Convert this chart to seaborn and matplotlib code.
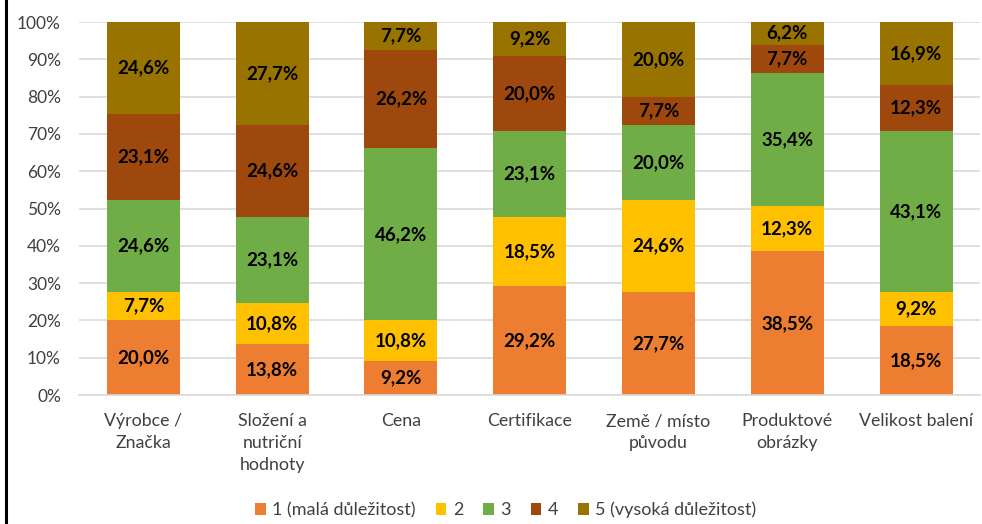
import numpy as np
import pandas as pd
import matplotlib
matplotlib.use("Agg")
import matplotlib.pyplot as plt
from matplotlib.patches import Patch
from matplotlib.lines import Line2D
import seaborn as sns

categories = ["Výrobce /\nZnačka", "Složení a\nnutriční\nhodnoty", "Cena", "Certifikace",
              "Země / místo\npůvodu", "Produktové\nobrázky", "Velikost balení"]
levels = ["1 (malá důležitost)", "2", "3", "4", "5 (vysoká důležitost)"]
level_1 = [20.0, 13.8, 9.2, 29.2, 27.7, 38.5, 18.5]
level_2 = [7.7, 10.8, 10.8, 18.5, 24.6, 12.3, 9.2]
level_3 = [24.6, 23.1, 46.2, 23.1, 20.0, 35.4, 43.1]
level_4 = [23.1, 24.6, 26.2, 20.0, 7.7, 7.7, 12.3]
level_5 = [24.6, 27.7, 7.7, 9.2, 20.0, 6.2, 16.9]
colors = ["#ED7D31", "#FFC000", "#70AD47", "#9E480E", "#997300"]

sns.set_theme(style="white")
plt.rcParams["font.family"] = ["Lato", "DejaVu Sans"]

series = [level_1, level_2, level_3, level_4, level_5]
values = np.array(series)
tops = values.cumsum(axis=0)

fig = plt.figure(figsize=(9.82, 5.24), dpi=100)
ax = fig.add_axes([0.0804, 0.246, 0.918, 0.712])

# stacked bars: draw cumulative totals from the top segment down
for i in reversed(range(len(levels))):
    df = pd.DataFrame({"kategorie": categories, "podíl": tops[i]})
    sns.barplot(data=df, x="kategorie", y="podíl", color=colors[i], width=0.567,
                saturation=1, ax=ax, zorder=2, linewidth=0)

# value labels at segment centres
for i in range(len(levels)):
    for j, v in enumerate(series[i]):
        ax.text(j, tops[i][j] - v / 2, f"{v:.1f}%".replace(".", ","),
                ha="center", va="center", fontsize=13.5, fontweight="bold",
                color="#000000", zorder=3)

ax.set_ylim(0, 100)
ax.set_xlim(-0.5, len(categories) - 0.5)
ax.set_yticks(np.arange(0, 101, 10))
ax.set_yticklabels([f"{t}%" for t in range(0, 101, 10)])
ax.yaxis.grid(True, color="#D9D9D9", linewidth=1.2, zorder=0)
ax.set_axisbelow(True)
ax.set_xlabel("")
ax.set_ylabel("")
for s in ["left", "right", "top"]:
    ax.spines[s].set_visible(False)
ax.spines["bottom"].set_color("#D9D9D9")
ax.spines["bottom"].set_linewidth(1.2)
ax.tick_params(axis="y", length=0, pad=13, labelsize=12.5, labelcolor="#404040")
ax.tick_params(axis="x", length=0, pad=13, labelsize=12.8, labelcolor="#404040")
for lbl in ax.get_xticklabels():
    lbl.set_linespacing(1.45)

handles = [Patch(facecolor=c, edgecolor="none") for c in colors]
fig.legend(handles, levels, loc="center", bbox_to_anchor=(0.515, 0.027), ncol=5,
           frameon=False, fontsize=13, handlelength=0.6, handleheight=0.6,
           handletextpad=0.35, columnspacing=1.1, labelcolor="#404040")

# frame line along the left edge
fig.add_artist(Line2D([0.0065, 0.0065], [0, 1], transform=fig.transFigure,
                      color="black", linewidth=2.2))

fig.savefig("out.png", dpi=100)
